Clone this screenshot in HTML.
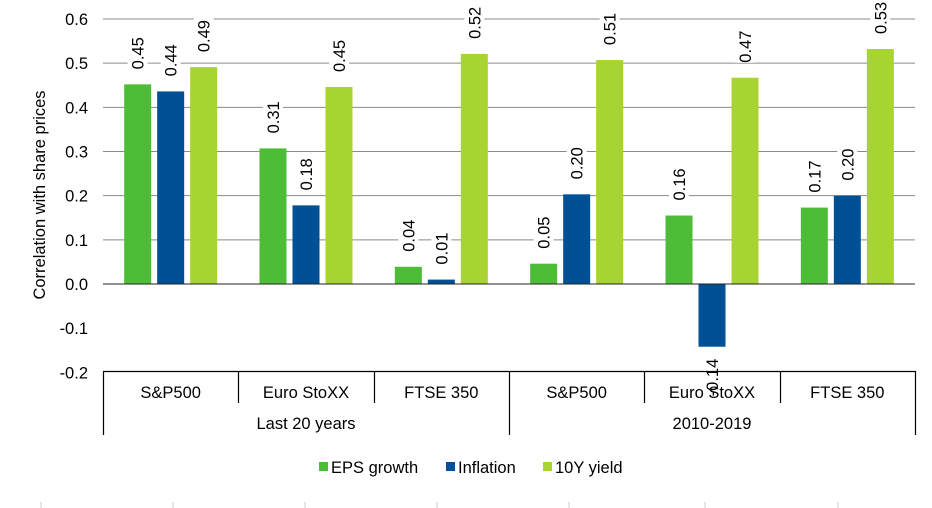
<!DOCTYPE html>
<html><head><meta charset="utf-8"><style>
body{margin:0;background:#fff;}
svg{display:block;font-family:"Liberation Sans",Arial,sans-serif;}
</style></head><body>
<svg id="c" width="932" height="508"></svg>
<script>
const groups=["S&P500","Euro StoXX","FTSE 350","S&P500","Euro StoXX","FTSE 350"];
const periods=["Last 20 years","2010-2019"];
const eps=[0.452,0.307,0.039,0.046,0.155,0.173];
const infl=[0.436,0.178,0.010,0.203,-0.142,0.200];
const yld=[0.491,0.446,0.521,0.507,0.467,0.532];
const epsLbl=["0.45","0.31","0.04","0.05","0.16","0.17"];
const inflLbl=["0.44","0.18","0.01","0.20","-0.14","0.20"];
const yldLbl=["0.49","0.45","0.52","0.51","0.47","0.53"];
const ticks=[0.6,0.5,0.4,0.3,0.2,0.1,0.0,-0.1,-0.2];
const NS="http://www.w3.org/2000/svg";
const svg=document.getElementById('c');
const x0=103,x1=915,gw=(x1-x0)/groups.length;
const y=v=>284-v*441.7;
const FS=16.5;
function el(t,a,txt){const e=document.createElementNS(NS,t);for(const k in a)e.setAttribute(k,a[k]);if(txt!==undefined)e.textContent=txt;svg.appendChild(e);return e;}
ticks.forEach(t=>{
 if(t>0){const g=el('line',{x1:x0,x2:x1,y1:y(t),y2:y(t),stroke:'#8a8a8a','stroke-width':1});
 
 }
 const l=el('text',{x:88,y:y(t)+6,'text-anchor':'end','font-size':FS,fill:'#000'},t.toFixed(1));
 
 
});
const series=[[eps,'#4dbd38',epsLbl,'eps'],[infl,'#005096',inflLbl,'inflation'],[yld,'#a8d431',yldLbl,'yield']];
const bw=27,step=33;
groups.forEach((g,i)=>{
 const cx=x0+gw*(i+0.5);
 series.forEach((s,j)=>{
  const v=s[0][i],bx=cx+(j-1)*step-bw/2;
  const top=Math.min(y(v),y(0)),h=Math.abs(y(v)-y(0));
  const r=el('rect',{x:bx,y:top,width:bw,height:h,fill:s[1]});
  
  
  const tx=bx+bw/2+6;
  let ty,anchor;
  if(v>=0){ty=y(v)-15;anchor='start';}else{ty=y(v)+12;anchor='end';}
  const lw=38,lh=20;
  const bg=el('rect',{x:tx-16,y:anchor==='start'?ty-lw:ty,width:lh,height:lw,fill:'#fff'});
  
  
  const t=el('text',{x:tx,y:ty,'font-size':FS,'text-anchor':anchor,transform:`rotate(-90 ${tx} ${ty})`},s[2][i]);
  
  
 });
 const c=el('text',{x:cx,y:398,'text-anchor':'middle','font-size':FS},g);
 
 
});
const z=el('line',{x1:x0,x2:x1,y1:y(0),y2:y(0),stroke:'#222','stroke-width':1});


const ax=el('line',{x1:x0,x2:x1,y1:371.5,y2:371.5,stroke:'#000','stroke-width':1.2});


for(let i=0;i<=groups.length;i++){
 const xx=Math.round(x0+gw*i)+0.5;
 const long=(i%3===0);
 const tk=el('line',{x1:xx,x2:xx,y1:371,y2:long?435:403,stroke:'#000','stroke-width':1.2});
 
 
}
periods.forEach((p,k)=>{
 const t=el('text',{x:x0+gw*(3*k+1.5),y:429,'text-anchor':'middle','font-size':FS},p);
 
 
});
const yt=el('text',{x:45,y:195,'text-anchor':'middle','font-size':FS,transform:'rotate(-90 45 195)'},'Correlation with share prices');


const leg=[[319,'#4dbd38','EPS growth'],[446,'#005096','Inflation'],[543,'#a8d431','10Y yield']];
leg.forEach(l=>{
 const r=el('rect',{x:l[0],y:462,width:9,height:9,fill:l[1]});
 
 
 const t=el('text',{x:l[0]+12,y:473,'font-size':FS},l[2]);
 
 
});
[41,173,305,437,569,705,838].forEach(xx=>{
 const f=el('line',{x1:xx,x2:xx,y1:502,y2:508,stroke:'#ccc','stroke-width':1});
 
 
});
</script>
</body></html>
